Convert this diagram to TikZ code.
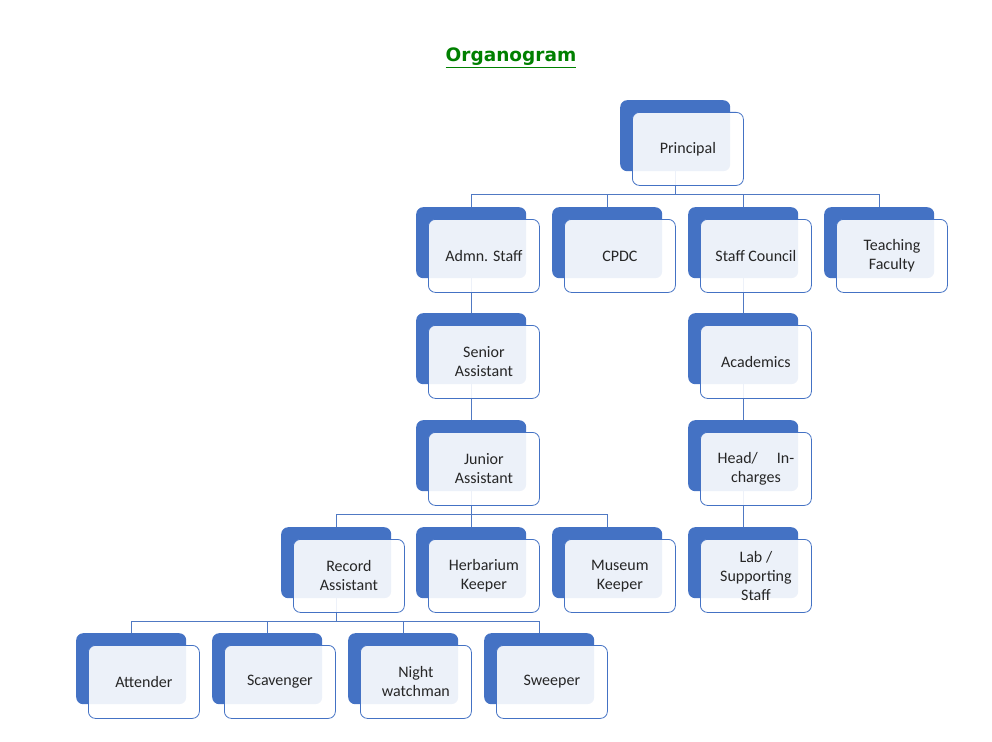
\documentclass[tikz,border=0pt]{standalone}
\usepackage{fontspec}
\setmainfont{Carlito}
\newfontfamily\titlefont{DejaVu Sans}
\usetikzlibrary{backgrounds}

\definecolor{boxblue}{HTML}{4472C4}
\definecolor{linkblue}{HTML}{5079C3}
\definecolor{titlegreen}{HTML}{008000}
\definecolor{textgray}{HTML}{262626}

\begin{document}
\begin{tikzpicture}[x=1pt, y=-1pt,
    back/.style={fill=boxblue, rounded corners=7pt, minimum width=110pt,
        minimum height=71pt, inner sep=0pt, anchor=north west},
    front/.style={draw=boxblue, line width=0.8pt, fill=white, fill opacity=0.9,
        text opacity=1, rounded corners=7pt, minimum width=111pt,
        minimum height=73pt, inner sep=0pt, align=center, anchor=north west,
        text=textgray, font=\fontsize{16}{19}\selectfont},
    link/.style={draw=linkblue, line width=1pt}]
    \useasboundingbox (0,0) rectangle (992,741);

    \node[font=\titlefont\bfseries\fontsize{18.5}{22}\selectfont, text=titlegreen]
        (title) at (511,58) {\underline{Organogram}};

    % top
    \node[back] (pb) at (620,100) {};
    \node[front] (p) at ([shift={(12,12)}]pb.north west) {Principal};

    % second row
    \node[back] (admb) at (416,207) {};
    \node[front] (adm) at ([shift={(12,12)}]admb.north west) {Admn. Staff};
    \node[back] (cpdcb) at (552,207) {};
    \node[front] (cpdc) at ([shift={(12,12)}]cpdcb.north west) {CPDC};
    \node[back] (scb) at (688,207) {};
    \node[front] (sc) at ([shift={(12,12)}]scb.north west) {Staff Council};
    \node[back] (tfb) at (824,207) {};
    \node[front] (tf) at ([shift={(12,12)}]tfb.north west) {Teaching\\Faculty};

    % admn. branch
    \node[back] (srb) at (416,313) {};
    \node[front] (sr) at ([shift={(12,12)}]srb.north west) {Senior\\Assistant};
    \node[back] (jrb) at (416,420) {};
    \node[front] (jr) at ([shift={(12,12)}]jrb.north west) {Junior\\Assistant};
    \node[back] (rab) at (281,527) {};
    \node[front] (ra) at ([shift={(12,12)}]rab.north west) {Record\\Assistant};
    \node[back] (hkb) at (416,527) {};
    \node[front] (hk) at ([shift={(12,12)}]hkb.north west) {Herbarium\\Keeper};
    \node[back] (mkb) at (552,527) {};
    \node[front] (mk) at ([shift={(12,12)}]mkb.north west) {Museum\\Keeper};

    % bottom row
    \node[back] (atb) at (76,633) {};
    \node[front] (at) at ([shift={(12,12)}]atb.north west) {Attender};
    \node[back] (scvb) at (212,633) {};
    \node[front] (scv) at ([shift={(12,12)}]scvb.north west) {Scavenger};
    \node[back] (nwb) at (348,633) {};
    \node[front] (nw) at ([shift={(12,12)}]nwb.north west) {Night\\watchman};
    \node[back] (swb) at (484,633) {};
    \node[front] (sw) at ([shift={(12,12)}]swb.north west) {Sweeper};

    % staff council branch
    \node[back] (acb) at (688,313) {};
    \node[front] (ac) at ([shift={(12,12)}]acb.north west) {Academics};
    \node[back] (hdb) at (688,420) {};
    \node[front] (hd) at ([shift={(12,12)}]hdb.north west) {Head/\hspace{19pt}In-\\charges};
    \node[back] (lsb) at (688,527) {};
    \node[front] (ls) at ([shift={(12,12)}]lsb.north west) {Lab /\\Supporting\\Staff};

    \begin{pgfonlayer}{background}
    \draw[link] (pb.south) -- ++(0,23.5) -| (admb.north);
    \draw[link] (pb.south) -- ++(0,23.5) -| (cpdcb.north);
    \draw[link] (pb.south) -- ++(0,23.5) -| (scb.north);
    \draw[link] (pb.south) -- ++(0,23.5) -| (tfb.north);
    \draw[link] (admb.south) -- (srb.north);
    \draw[link] (srb.south) -- (jrb.north);
    \draw[link] (jrb.south) -- ++(0,23.5) -| (rab.north);
    \draw[link] (jrb.south) -- ++(0,23.5) -| (hkb.north);
    \draw[link] (jrb.south) -- ++(0,23.5) -| (mkb.north);
    \draw[link] (rab.south) -- ++(0,23.5) -| (atb.north);
    \draw[link] (rab.south) -- ++(0,23.5) -| (scvb.north);
    \draw[link] (rab.south) -- ++(0,23.5) -| (nwb.north);
    \draw[link] (rab.south) -- ++(0,23.5) -| (swb.north);
    \draw[link] (scb.south) -- (acb.north);
    \draw[link] (acb.south) -- (hdb.north);
    \draw[link] (hdb.south) -- (lsb.north);
    \end{pgfonlayer}
\end{tikzpicture}
\end{document}
